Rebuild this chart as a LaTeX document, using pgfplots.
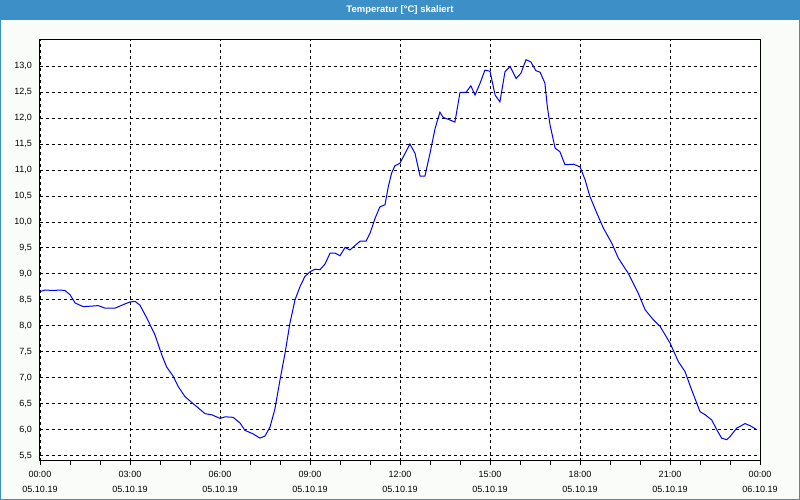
\documentclass[border=0pt]{standalone}
\usepackage{fontspec}
\setmainfont{Liberation Sans}
\usepackage{pgfplots}
\pgfplotsset{compat=1.18}
\definecolor{bar}{RGB}{61,144,199}
\definecolor{bg}{RGB}{250,252,250}
\begin{document}
\begin{tikzpicture}[x=1pt,y=1pt]
\useasboundingbox (0,0) rectangle (800,500);
\fill[bg] (0,0) rectangle (800,500);
\fill[bar] (0,479.5) rectangle (800,500);
\draw[bar,line width=1pt] (0.5,0.5) rectangle (799.5,499.5);
\node[text=white,font=\fontsize{9.5}{11}\selectfont\bfseries] at (400,490) {Temperatur [°C] skaliert};
\begin{axis}[
  at={(40pt,39pt)}, anchor=south west,
  scale only axis, width=720pt, height=421pt,
  xmin=0, xmax=24, ymin=5.4, ymax=13.5,
  axis background/.style={fill=white},
  axis line style={black,line width=1pt},
  xtick={0,3,...,24},
  xticklabels={{00:00\\05.10.19},{03:00\\05.10.19},{06:00\\05.10.19},{09:00\\05.10.19},{12:00\\05.10.19},{15:00\\05.10.19},{18:00\\05.10.19},{21:00\\05.10.19},{00:00\\06.10.19}},
  minor xtick={1,2,4,5,7,8,10,11,13,14,16,17,19,20,22,23},
  ytick={5.5,6,...,13},
  tick pos=left, tick align=outside,
  major tick length=4pt, minor tick length=4pt,
  x tick style={black,line width=0.8pt},
  y tick style={draw=none},
  grid=major,
  major grid style={black,line width=0.8pt,dash pattern=on 3pt off 3pt},
  tick label style={font=\fontsize{9}{15.5}\selectfont},
  xticklabel style={align=center,inner sep=0pt,yshift=-6pt},
  yticklabel style={inner sep=0pt,xshift=-4pt},
  /pgf/number format/assume math mode=true,
  /pgf/number format/.cd, use comma, fixed, fixed zerofill, precision=1,
]
\addplot[color={rgb,255:red,0;green,0;blue,255},line width=1pt] coordinates {
(0.00,8.66)(0.17,8.69)(0.44,8.68)(0.67,8.69)(0.83,8.68)(1.00,8.60)(1.17,8.44)
(1.44,8.37)(1.72,8.38)(1.94,8.39)(2.17,8.34)(2.50,8.34)(2.78,8.41)(3.00,8.46)
(3.17,8.47)(3.33,8.40)(3.56,8.15)(3.83,7.83)(4.06,7.44)(4.22,7.21)(4.44,7.03)
(4.61,6.83)(4.83,6.64)(5.11,6.50)(5.28,6.42)(5.50,6.31)(5.72,6.29)(6.00,6.22)
(6.17,6.25)(6.44,6.24)(6.67,6.13)(6.83,5.99)(7.11,5.92)(7.33,5.84)(7.50,5.88)
(7.67,6.06)(7.83,6.40)(8.00,6.96)(8.17,7.48)(8.33,8.05)(8.50,8.50)(8.67,8.76)
(8.83,8.95)(9.00,9.04)(9.17,9.09)(9.33,9.08)(9.50,9.19)(9.67,9.40)(9.83,9.40)
(10.00,9.35)(10.17,9.51)(10.33,9.46)(10.67,9.63)(10.87,9.63)(11.00,9.78)
(11.17,10.07)(11.33,10.29)(11.50,10.33)(11.61,10.68)(11.72,10.94)(11.83,11.08)
(12.00,11.13)(12.17,11.32)(12.33,11.50)(12.50,11.32)(12.67,10.88)(12.83,10.88)
(13.00,11.32)(13.17,11.80)(13.33,12.11)(13.44,12.01)(13.67,11.96)(13.83,11.92)
(14.00,12.49)(14.20,12.49)(14.36,12.62)(14.50,12.44)(14.67,12.67)(14.83,12.92)
(15.00,12.90)(15.17,12.44)(15.33,12.31)(15.50,12.89)(15.67,12.99)(15.87,12.76)
(16.03,12.86)(16.20,13.12)(16.36,13.08)(16.53,12.91)(16.67,12.88)(16.83,12.67)
(16.91,12.22)(17.00,11.87)(17.17,11.42)(17.33,11.35)(17.50,11.10)(17.78,11.11)
(18.00,11.06)(18.17,10.81)(18.33,10.49)(18.56,10.17)(18.78,9.88)(19.06,9.59)
(19.28,9.30)(19.61,9.01)(19.94,8.63)(20.17,8.31)(20.44,8.12)(20.67,7.99)
(21.00,7.67)(21.28,7.31)(21.50,7.12)(21.72,6.77)(22.00,6.35)(22.17,6.29)
(22.39,6.19)(22.56,6.00)(22.72,5.84)(22.89,5.81)(23.00,5.87)(23.22,6.03)
(23.50,6.12)(23.67,6.08)(23.87,6.01)
};
\node[anchor=north east,inner sep=0pt,font=\fontsize{9}{11}\selectfont] at (rel axis cs:0,1) [xshift=-3pt,yshift=-2pt] {°C};
\end{axis}
\end{tikzpicture}
\end{document}
